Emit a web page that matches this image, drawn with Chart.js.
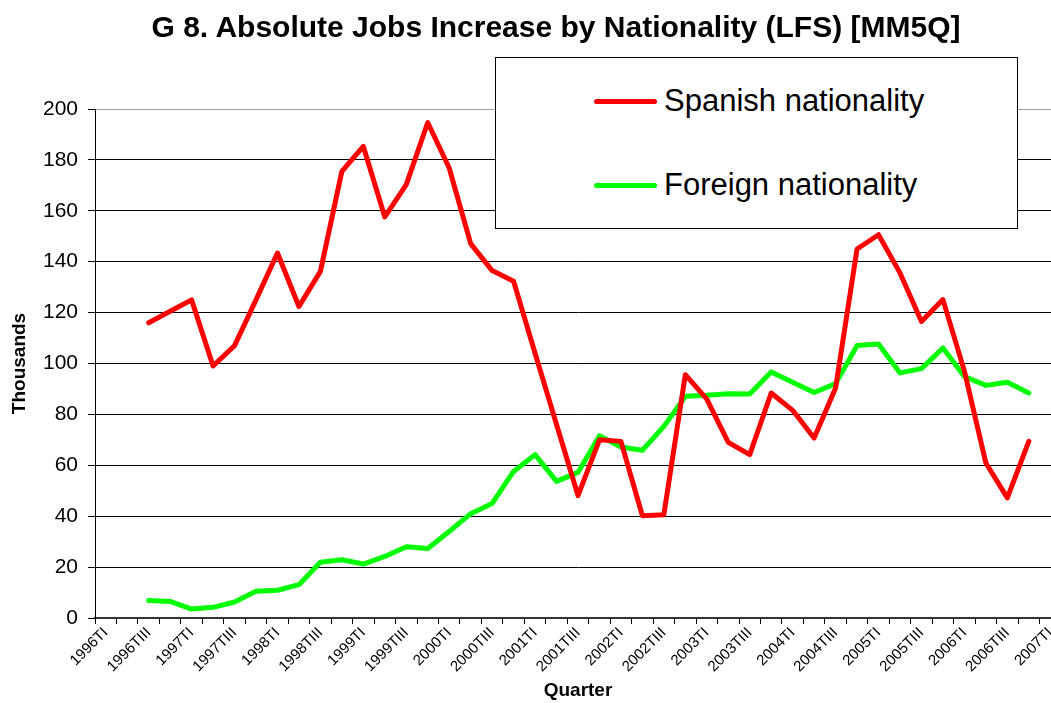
<!DOCTYPE html>
<html>
<head>
<meta charset="utf-8">
<script src="https://cdn.jsdelivr.net/npm/chart.js@4.4.0/dist/chart.umd.min.js"></script>
<style>
  body { margin: 0; overflow: hidden; background: #fff; }
  #wrap { position: relative; width: 1110px; height: 703px; }
  #title {
    position: absolute; left: 0; top: 9px; width: 1112px; text-align: center;
    font-family: "Liberation Sans", Arial, sans-serif; font-weight: bold; font-size: 30px; line-height: 36px; color: #000;
  }
  #legend {
    position: absolute; left: 495px; top: 57px; width: 521px; height: 170px;
    border: 1px solid #000; background: #fff;
    font-family: "Liberation Sans", Arial, sans-serif; font-size: 31px; color: #000;
  }
  .item { position: absolute; left: 0; height: 40px; display: flex; align-items: center; }
  .swatch { margin-left: 98px; width: 63px; height: 5px; border-radius: 3px; }
  .item span { margin-left: 7px; }
</style>
</head>
<body>
<div id="wrap">
  <canvas id="chart"></canvas>
  <div id="title">G 8. Absolute Jobs Increase by Nationality (LFS) [MM5Q]</div>
  <div id="legend"></div>
</div>
<script>
var categories = [
  "1996TI", "1996TII", "1996TIII", "1996TIV",
  "1997TI", "1997TII", "1997TIII", "1997TIV",
  "1998TI", "1998TII", "1998TIII", "1998TIV",
  "1999TI", "1999TII", "1999TIII", "1999TIV",
  "2000TI", "2000TII", "2000TIII", "2000TIV",
  "2001TI", "2001TII", "2001TIII", "2001TIV",
  "2002TI", "2002TII", "2002TIII", "2002TIV",
  "2003TI", "2003TII", "2003TIII", "2003TIV",
  "2004TI", "2004TII", "2004TIII", "2004TIV",
  "2005TI", "2005TII", "2005TIII", "2005TIV",
  "2006TI", "2006TII", "2006TIII", "2006TIV",
  "2007TI"
];

var spanish = [null, null, 116, 120.5, 125, 99, 107, 125, 143.4, 122.4, 136.2, 175.5, 185.3, 157.6, 170.3, 194.7,
  176.8, 147.1, 136.5, 132.3, 104, 76, 48.1, 70, 69.4, 40.2, 40.6, 95.6, 86, 69, 64.2, 88.4,
  81.6, 70.7, 90.4, 145, 150.6, 135.6, 116.5, 125.1, 97, 60.9, 47.2, 69.4, null];

var foreign = [null, null, 6.9, 6.5, 3.5, 4.2, 6.3, 10.5, 10.9, 13.1, 21.9, 22.9, 21.2, 24.2, 28, 27.3,
  34, 41, 45, 57.6, 64.2, 53.7, 57.2, 71.6, 67.2, 65.9, 75.3, 87.1, 87.5, 88.1, 88, 96.7,
  92.6, 88.6, 92.1, 107.1, 107.7, 96.3, 98, 106.1, 94.9, 91.4, 92.6, 88.4, null];

var yTicks = [0, 20, 40, 60, 80, 100, 120, 140, 160, 180, 200];

var font = '"Liberation Sans", Arial, sans-serif';

var chart = new Chart(document.getElementById("chart"), {
  type: "line",
  data: {
    labels: categories,
    datasets: [
      {
        label: "Spanish nationality",
        data: spanish,
        borderColor: "#ff0000",
        backgroundColor: "#ff0000",
        borderWidth: 5,
        pointRadius: 0,
        tension: 0,
        borderCapStyle: "round",
        borderJoinStyle: "round"
      },
      {
        label: "Foreign nationality",
        data: foreign,
        borderColor: "#00ff00",
        backgroundColor: "#00ff00",
        borderWidth: 5,
        pointRadius: 0,
        tension: 0,
        borderCapStyle: "round",
        borderJoinStyle: "round"
      }
    ]
  },
  options: {
    responsive: true,
    maintainAspectRatio: false,
    animation: false,
    layout: { padding: { left: 0, right: 49, top: 109, bottom: 0 } },
    plugins: {
      legend: { display: false },
      tooltip: { enabled: false },
      title: { display: false }
    },
    scales: {
      x: {
        offset: true,
        grid: { offset: true, drawOnChartArea: false, drawTicks: true, tickLength: 6, color: "#000" },
        border: { color: "#333", width: 2 },
        ticks: {
          autoSkip: false,
          minRotation: 45,
          maxRotation: 45,
          color: "#000",
          font: { family: font, size: 15 },
          padding: 0,
          callback: function (v, i) { return i % 2 === 0 ? categories[i] : ""; }
        },
        title: {
          display: true,
          text: "Quarter",
          color: "#000",
          font: { family: font, size: 19, weight: "bold" },
          padding: { top: 0, bottom: 1 }
        },
        afterFit: function (s) { s.height = 85; }
      },
      y: {
        min: 0,
        max: 200,
        afterBuildTicks: function (s) { s.ticks = yTicks.map(function (v) { return { value: v }; }); },
        grid: {
          color: function (c) { return c.tick && c.tick.value === 200 ? "#a0a0a0" : "#000"; },
          tickLength: 7,
          tickColor: "#000"
        },
        border: { color: "#000", width: 1 },
        ticks: {
          color: "#000",
          font: { family: font, size: 21 },
          padding: 10
        },
        title: {
          display: true,
          text: "Thousands",
          color: "#000",
          font: { family: font, size: 19, weight: "bold" },
          padding: { top: 8, bottom: 0 }
        },
        afterFit: function (s) { s.width = 95; }
      }
    }
  }
});

// legend box
var legendBox = document.getElementById("legend");
var rowTops = [23, 107];
chart.data.datasets.forEach(function (ds, i) {
  var row = document.createElement("div");
  row.className = "item";
  row.style.top = rowTops[i] + "px";
  var sw = document.createElement("div");
  sw.className = "swatch";
  sw.style.background = ds.borderColor;
  var txt = document.createElement("span");
  txt.textContent = ds.label;
  row.appendChild(sw);
  row.appendChild(txt);
  legendBox.appendChild(row);
});
</script>
</body>
</html>
